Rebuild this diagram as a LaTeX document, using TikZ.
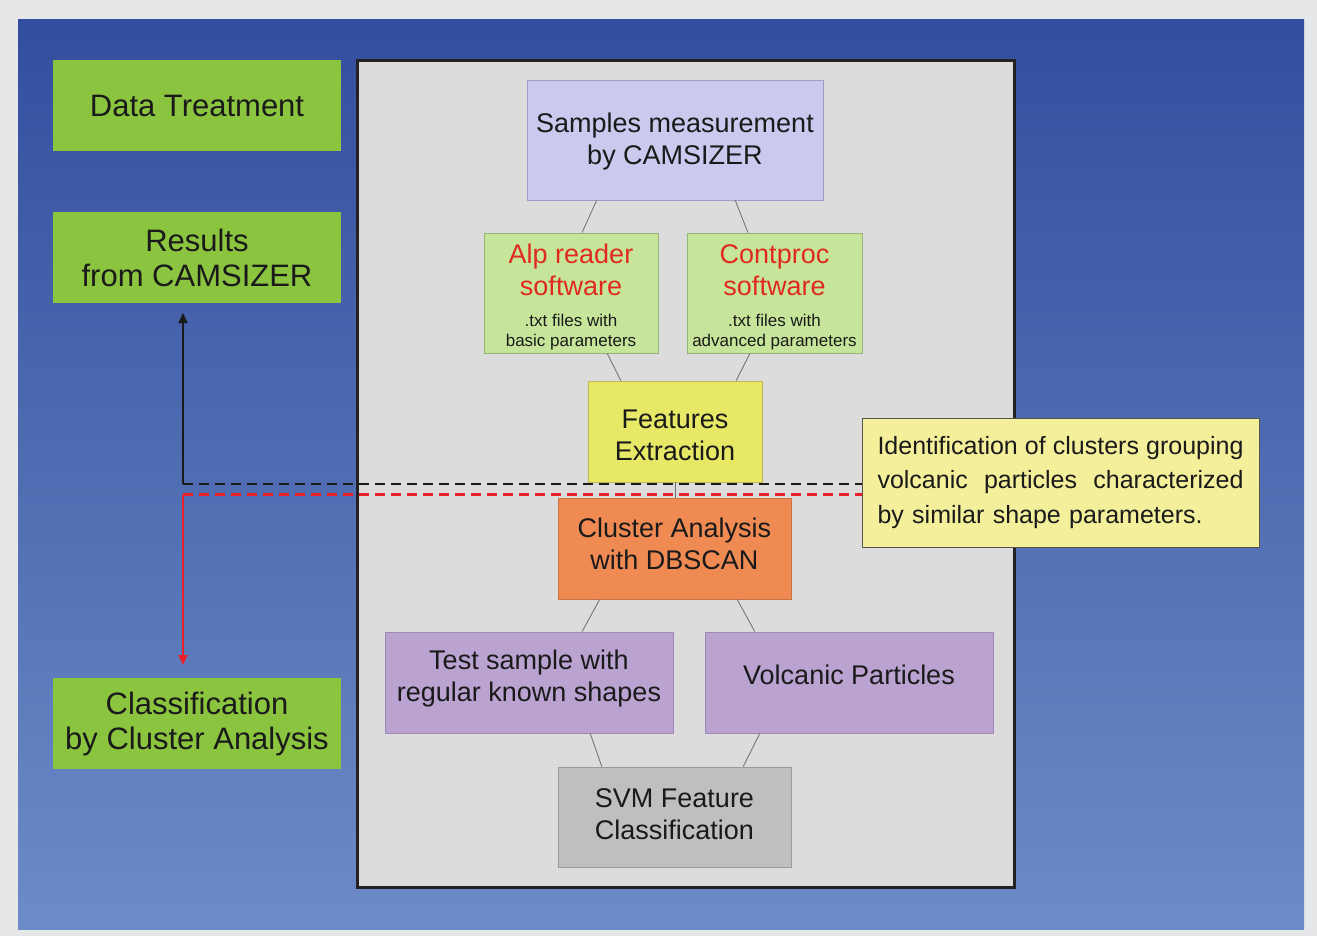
\documentclass[tikz,border=0pt]{standalone}
\usepackage{fontspec}
\setmainfont{Liberation Sans}
\usetikzlibrary{arrows.meta,calc}
\definecolor{outerbg}{HTML}{E6E7E9}
\definecolor{bluetop}{HTML}{334E9E}
\definecolor{bluebot}{HTML}{6D8BC7}
\definecolor{panelfill}{HTML}{DCDCDD}
\definecolor{panelline}{HTML}{222222}
\definecolor{grn}{HTML}{8BC53F}
\definecolor{txt}{HTML}{1A1A1A}
\definecolor{redtxt}{HTML}{E02A20}
\definecolor{sampfill}{HTML}{C9CAEE}
\definecolor{sampline}{HTML}{9C9EC9}
\definecolor{swfill}{HTML}{C6E59A}
\definecolor{swline}{HTML}{94B574}
\definecolor{featfill}{HTML}{E7E866}
\definecolor{featline}{HTML}{B9BA55}
\definecolor{clusfill}{HTML}{EF8A52}
\definecolor{clusline}{HTML}{C97244}
\definecolor{purpfill}{HTML}{BAA3D1}
\definecolor{purpline}{HTML}{9D89B6}
\definecolor{svmfill}{HTML}{BFBFBF}
\definecolor{svmline}{HTML}{9B9B9B}
\definecolor{callfill}{HTML}{F3EF9A}
\definecolor{callline}{HTML}{55554D}
\definecolor{linkgray}{HTML}{6E6E6E}
\definecolor{dashred}{HTML}{E8202A}
\definecolor{dashblack}{HTML}{1A1A1A}
\newcommand\flowlink[4]{\draw[link] ($(#1.south west)!#2!(#1.south east)$) -- ($(#3.north west)!#4!(#3.north east)$);}
\newcommand\smalltxt[1]{{\fontsize{17}{20}\selectfont #1}}
\begin{document}
\begin{tikzpicture}[x=1pt,y=-1pt,
  greenbox/.style={fill=grn, inner sep=0pt, minimum width=288pt, minimum height=91pt,
    align=center, text=txt, font=\fontsize{31}{35}\selectfont},
  flowbox/.style={draw, line width=0.9pt, inner sep=0pt},
  flowtext/.style={align=center, text=txt, inner sep=0pt, font=\fontsize{27}{32}\selectfont},
  link/.style={draw=linkgray, line width=0.8pt},
  dashline/.style={line width=2.2pt, dash pattern=on 10pt off 6pt},
  tipline/.style={line width=2pt, -{Triangle[length=10pt,width=9pt]}},
  callbox/.style={draw=callline, fill=callfill, line width=1pt, minimum width=397pt,
    minimum height=129pt, inner sep=0pt, text width=366pt, align=left, text=txt,
    font=\fontsize{25}{34.5}\selectfont}
]
\fill[outerbg] (0,0) rectangle (1317,936);
\useasboundingbox (0,0) rectangle (1317,936);
\shade[top color=bluetop, bottom color=bluebot] (18,20) rectangle (1304,929);

% left green labels
\node[greenbox] (dt)  at (197,105.5) {Data Treatment};
\node[greenbox] (res) at (197,257.5) {Results\\from CAMSIZER};
\node[greenbox] (cls) at (197,723.5) {Classification\\by Cluster Analysis};

% central panel
\node[draw=panelline, fill=panelfill, line width=2.5pt, inner sep=0pt,
      minimum width=657pt, minimum height=827pt] (panel) at (686,474) {};

% flow boxes
\node[flowbox, draw=sampline, fill=sampfill, minimum width=296pt, minimum height=120pt,
  label={[flowtext, yshift=-2pt]center:{Samples measurement\\by CAMSIZER}}]
  (samp) at (675,140) {};
\node[flowbox, draw=swline, fill=swfill, minimum width=174pt, minimum height=120pt,
  label={[flowtext, yshift=-4pt]center:{\textcolor{redtxt}{Alp reader}\\\textcolor{redtxt}{software}\\[-1pt]
  \smalltxt{.txt files with}\\[-12pt]\smalltxt{basic parameters}}}]
  (alp) at (571,293) {};
\node[flowbox, draw=swline, fill=swfill, minimum width=175pt, minimum height=120pt,
  label={[flowtext, yshift=-4pt]center:{\textcolor{redtxt}{Contproc}\\\textcolor{redtxt}{software}\\[-1pt]
  \smalltxt{.txt files with}\\[-12pt]\smalltxt{advanced parameters}}}]
  (cont) at (774.5,293) {};
\node[flowbox, draw=featline, fill=featfill, minimum width=174pt, minimum height=101pt,
  label={[flowtext, yshift=-4pt]center:{Features\\Extraction}}]
  (feat) at (675,431.5) {};
\node[flowbox, draw=clusline, fill=clusfill, minimum width=233pt, minimum height=101pt,
  label={[flowtext, yshift=5pt]center:{Cluster Analysis\\with DBSCAN}}]
  (clus) at (674.5,548.5) {};
\node[flowbox, draw=purpline, fill=purpfill, minimum width=288pt, minimum height=101pt,
  label={[flowtext, yshift=4pt]center:{Test sample with\\regular known shapes}}]
  (test) at (529,682.5) {};
\node[flowbox, draw=purpline, fill=purpfill, minimum width=288pt, minimum height=101pt,
  label={[flowtext, yshift=8pt]center:{Volcanic Particles}}]
  (volc) at (849,682.5) {};
\node[flowbox, draw=svmline, fill=svmfill, minimum width=233pt, minimum height=100pt,
  label={[flowtext, yshift=3pt]center:{SVM Feature\\Classification}}]
  (svm) at (674.5,817) {};

% connectors
\flowlink{samp}{0.236}{alp}{0.563}
\flowlink{samp}{0.703}{cont}{0.349}
\flowlink{alp}{0.707}{feat}{0.19}
\flowlink{cont}{0.36}{feat}{0.85}
\draw[link] (feat.south) -- (feat.south |- clus.north);
\flowlink{clus}{0.18}{test}{0.684}
\flowlink{clus}{0.768}{volc}{0.174}
\flowlink{test}{0.712}{svm}{0.189}
\flowlink{volc}{0.191}{svm}{0.794}

% dashed guide lines and arrows
\coordinate (bk)  at (183,484);
\coordinate (bkt) at (183,313);
\coordinate (rd)  at (183,494.5);
\coordinate (rdt) at (183,665);
\coordinate (callw) at (862,484);
\draw[dashline, draw=dashblack] (bk) -- (bk -| callw);
\draw[dashline, draw=dashred] (rd) -- (rd -| callw);
\draw[tipline, draw=dashblack, fill=dashblack] (bk) -- (bkt);
\draw[tipline, draw=dashred, fill=dashred] (rd) -- (rdt);

% callout
\node[callbox] (call) at (1060.5,482.5)
  {\makebox[366pt][l]{Identification\hfill of\hfill clusters\hfill grouping}\\
   \makebox[366pt][l]{volcanic\hfill particles\hfill characterized}\\
   by similar shape parameters.};
\end{tikzpicture}
\end{document}
